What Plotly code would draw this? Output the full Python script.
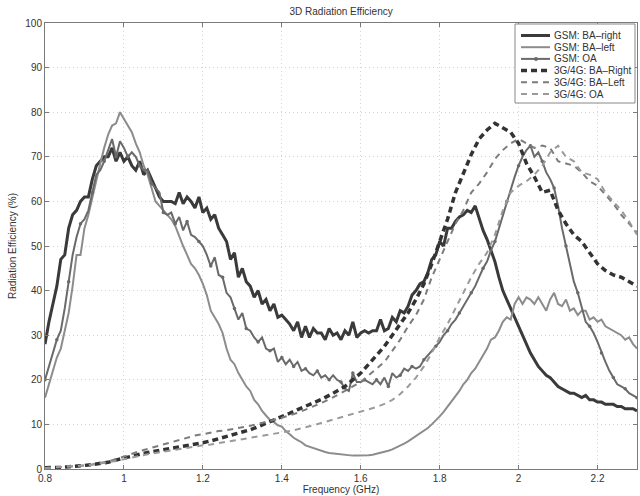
import numpy as np
import plotly.graph_objects as go

freq_fine = np.round(np.arange(0.80, 2.3001, 0.01), 2)
freq_coarse = np.round(np.arange(0.80, 2.3001, 0.02), 2)

gsm_ba_right = [
    28, 33, 37, 41, 47, 48, 54, 57, 58, 60,
    61, 61, 65, 68, 69, 70, 70, 72, 69, 71,
    69, 70, 68, 67, 69, 66, 67, 65, 63, 61,
    60, 60, 60, 59.5, 62, 59.5, 61, 60, 58.5, 61,
    57.5, 58.5, 56, 57, 54, 52.5, 51, 47, 48.5, 43,
    45, 42, 41, 38.5, 40, 37, 38, 35.5, 37, 34,
    34.5, 33.5, 32.5, 31, 33, 29.5, 32, 29.5, 31.5, 30.5,
    30.5, 29, 31.5, 30, 30.5, 29, 31, 30, 33, 29.5,
    30.5, 31, 30.5, 31, 31, 33.5, 31, 31.5, 34, 33,
    35.5, 35, 36.5, 39, 40, 41.5, 42, 44, 47, 48,
    51, 50, 54, 54, 55.5, 56.5, 57, 58, 57.5, 59,
    56, 53.5, 51.5, 49, 46.5, 43, 40, 38, 36, 34,
    32, 30, 28, 26, 24.5, 23, 22, 21, 20.5, 19.5,
    18.5, 18, 17.5, 17, 17, 16.5, 16, 16.5, 15.5, 15.5,
    15, 15, 14.5, 14.5, 14.5, 14, 14, 13.5, 13.5, 13.5,
    13,
]

gsm_ba_left = [
    16, 19, 22, 25, 27, 31, 35, 41, 48, 48,
    54, 57, 61, 65, 68.5, 72, 75, 77, 77.5, 80,
    78.5, 77, 75.5, 73, 71, 68, 66, 63, 60, 59,
    58, 57, 56, 54.5, 52, 50, 48, 46, 45, 43.5,
    41.5, 39, 35.5, 34, 32.5, 30.5, 27, 24.5, 23.5, 21.5,
    20, 18.5, 17.5, 15.5, 14.5, 13, 12, 11, 10.5, 9.8,
    9.5, 8.5, 7.8, 7, 6.5, 6, 5.3, 5, 4.6, 4.3,
    4, 3.8, 3.6, 3.5, 3.4, 3.3, 3.1, 3, 3, 3,
    3, 3, 3.1, 3.2, 3.4, 3.6, 3.8, 4.1, 4.4, 4.8,
    5.2, 5.7, 6.2, 6.8, 7.4, 8, 8.5, 9.2, 10, 10.8,
    11.8, 12.8, 14, 15.3, 16.5, 17.5, 19, 20, 21.5, 22.5,
    24, 25.5, 27, 29, 29.5, 31, 33, 34, 33.5, 37,
    38.5, 37, 38.5, 38, 37, 38.5, 37, 35.5, 38, 39.5,
    37, 36.5, 38, 35.5, 36, 34.5, 35.5, 35.5, 33.5, 34,
    33, 33.5, 32, 31.5, 31, 30.5, 30, 29, 29.5, 28,
    27,
]

gsm_oa = [
    20, 23, 26, 29, 31, 36, 42, 48, 52, 55,
    56, 58, 62, 66, 67, 69, 71.5, 74, 70, 73.5,
    72, 70, 71, 70, 68, 67, 67, 64, 63, 62,
    57.5, 57, 57.5, 55, 56.5, 53.5, 55.5, 52.5, 52, 51,
    50, 48, 45.5, 47.5, 43.5, 43, 39.5, 38.5, 36, 33.5,
    35, 31.5, 31, 29.5, 28.5, 29.5, 27, 26.5, 27, 24,
    25, 23.5, 24.5, 23, 24, 22, 22.5, 21.5, 21, 22,
    20.5, 21, 20, 21, 20, 19.5, 18, 17.5, 21.5, 19.5,
    19.5, 20, 19.5, 19, 20, 19, 20.5, 18.5, 21.5, 20.5,
    21, 22.5, 22, 23, 22.5, 23, 24.5, 25.5, 26.5, 27.5,
    28.5, 30, 31, 32.5, 33.5, 35, 36.5, 38, 39.5, 41,
    43, 45, 46.5, 49, 51, 54, 57, 60, 62.5, 65.5,
    68, 70, 71.5, 72.5, 70, 71, 69, 66.5, 65, 63,
    59, 54, 50, 46, 42, 39.5, 36, 33, 32, 30.5,
    28.5, 26, 24, 22, 20.5, 19, 18.5, 18, 17, 16.5,
    16,
]

umts_ba_right = [
    0.3, 0.3, 0.4, 0.5, 0.6, 0.8, 1.0, 1.2, 1.5, 2.0,
    2.5, 3.0, 3.3, 3.7, 4.0, 4.3, 4.6, 4.9, 5.2, 5.5,
    5.9, 6.3, 6.8, 7.2, 7.6, 8.2, 8.8, 9.5, 10.2, 11.0,
    11.8, 12.5, 13.3, 14.0, 14.8, 15.6, 16.5, 17.5, 18.5, 20,
    21.5, 23.5, 25.5, 27.5, 30, 32.5, 35, 38, 41.5, 46,
    51, 56, 62, 66.5, 70.5, 74, 76, 77.5, 76.5, 75.5,
    73, 68.5, 65.5, 62, 62.5, 58, 55, 52.5, 51, 48.5,
    46, 44.5, 43.5, 43, 42, 41,
]

umts_ba_left = [
    0.2, 0.3, 0.4, 0.5, 0.6, 0.8, 1.0, 1.3, 1.7, 2.2,
    2.8, 3.5, 4.0, 4.5, 5.0, 5.5, 6.0, 6.5, 7.0, 7.5,
    7.8, 8.2, 8.5, 8.7, 9.0, 9.3, 9.7, 10.1, 10.5, 11.0,
    11.5, 12.0, 12.6, 13.3, 14.0, 14.8, 15.6, 16.5, 17.5, 18.5,
    19.5, 21, 22.5, 24, 26.5, 29, 32, 34.5, 38, 43,
    47, 51, 55, 58, 62, 64, 66.5, 69.5, 71.5, 73,
    74, 73, 72, 72.5, 72, 69, 68.5, 68, 66.5, 64.5,
    63.5, 61.5, 59.5, 57, 55, 53,
]

umts_oa = [
    0.2, 0.3, 0.4, 0.5, 0.6, 0.8, 1.0, 1.2, 1.5, 1.8,
    2.2, 2.6, 3.0, 3.3, 3.6, 3.9, 4.2, 4.5, 4.8, 5.0,
    5.3, 5.5, 5.8, 6.0, 6.3, 6.6, 6.9, 7.2, 7.5, 7.8,
    8.1, 8.5, 8.9, 9.3, 9.8, 10.3, 10.8, 11.3, 11.8, 12.3,
    12.8, 13.3, 13.9, 14.6, 15.5, 16.8, 18.5, 20.5, 23, 26,
    29.5, 32.5, 36, 39.5, 43, 46, 48.5, 52.5, 58, 62,
    63.5, 64.5, 66, 68, 71, 72.5, 70, 69, 66.5, 66,
    65, 62, 60, 58, 55.5, 52.5,
]

x_ticks = [0.8, 1.0, 1.2, 1.4, 1.6, 1.8, 2.0, 2.2]
x_labels = ["0.8", "1", "1.2", "1.4", "1.6", "1.8", "2", "2.2"]
y_ticks = [0, 10, 20, 30, 40, 50, 60, 70, 80, 90, 100]

FONT = "Liberation Sans, Arial, sans-serif"
W, H = 640, 496
ML, MR, MT, MB = 45, 3, 23, 27
PW, PH = W - ML - MR, H - MT - MB


def px_x(px):
    return (px - ML) / PW


def px_y(py):
    return (H - MB - py) / PH


fig = go.Figure()
fig.add_trace(go.Scatter(x=freq_fine, y=gsm_ba_right, mode="lines", name="GSM: BA\u2013right",
                         line=dict(color="#3a3a3a", width=3)))
fig.add_trace(go.Scatter(x=freq_fine, y=gsm_ba_left, mode="lines", name="GSM: BA\u2013left",
                         line=dict(color="#8c8c8c", width=2)))
fig.add_trace(go.Scatter(x=freq_fine, y=gsm_oa, mode="lines+markers", name="GSM: OA",
                         line=dict(color="#6a6a6a", width=2),
                         marker=dict(color="#6a6a6a", size=3.5, maxdisplayed=75)))
fig.add_trace(go.Scatter(x=freq_coarse, y=umts_ba_right, mode="lines", name="3G/4G: BA\u2013Right",
                         line=dict(color="#333333", width=3.5, dash="6px,4px")))
fig.add_trace(go.Scatter(x=freq_coarse, y=umts_ba_left, mode="lines", name="3G/4G: BA\u2013Left",
                         line=dict(color="#7c7c7c", width=2, dash="6px,5px")))
fig.add_trace(go.Scatter(x=freq_coarse, y=umts_oa, mode="lines", name="3G/4G: OA",
                         line=dict(color="#9a9a9a", width=2, dash="6px,5px")))

# compact MATLAB-style legend box drawn from the trace styles
shapes = [dict(type="rect", xref="paper", yref="paper",
               x0=px_x(515), x1=px_x(635), y0=px_y(103), y1=px_y(24),
               fillcolor="white", line=dict(color="#888", width=1), layer="above")]
annotations = []
row_y = 35.5
for tr in fig.data:
    shapes.append(dict(type="line", xref="paper", yref="paper",
                       x0=px_x(521), x1=px_x(550), y0=px_y(row_y), y1=px_y(row_y),
                       line=dict(color=tr.line.color, width=tr.line.width,
                                 dash=tr.line.dash or "solid"), layer="above"))
    if "markers" in tr.mode:
        shapes.append(dict(type="circle", xref="paper", yref="paper",
                           x0=px_x(534), x1=px_x(538), y0=px_y(row_y + 2), y1=px_y(row_y - 2),
                           fillcolor=tr.line.color, line=dict(width=0), layer="above"))
    annotations.append(dict(xref="paper", yref="paper", x=px_x(552), y=px_y(row_y),
                            xanchor="left", yanchor="middle", text=tr.name, showarrow=False,
                            font=dict(family=FONT, size=10, color="#333")))
    row_y += 11.7

axis_common = dict(
    showline=True, linecolor="#7a7a7a", linewidth=1, mirror="ticks",
    ticks="inside", ticklen=4, tickcolor="#7a7a7a",
    showgrid=True, gridcolor="#d4d4d4", griddash="1px,3px", gridwidth=1,
    zeroline=False, tickfont=dict(family=FONT, size=10, color="#333"),
)

fig.update_layout(
    width=W, height=H,
    margin=dict(l=ML, r=MR, t=MT, b=MB),
    paper_bgcolor="white", plot_bgcolor="white",
    font=dict(family=FONT, size=10, color="#333"),
    title=dict(text="3D Radiation Efficiency", x=0.533, xanchor="center",
               y=1 - 11 / H, yanchor="middle", font=dict(family=FONT, size=10, color="#333")),
    xaxis=dict(range=[0.8, 2.3], tickvals=x_ticks, ticktext=x_labels,
               title=dict(text="Frequency (GHz)", standoff=0, font=dict(family=FONT, size=10)),
               **axis_common),
    yaxis=dict(range=[0, 100], tickvals=y_ticks,
               title=dict(text="Radiation Efficiency (%)", standoff=6, font=dict(family=FONT, size=10)),
               **axis_common),
    showlegend=False,
    hovermode=False,
    shapes=shapes,
    annotations=annotations,
)

fig.write_html("out.html", config={"displayModeBar": False, "staticPlot": True},
               post_script="document.body.style.margin='0px';")
